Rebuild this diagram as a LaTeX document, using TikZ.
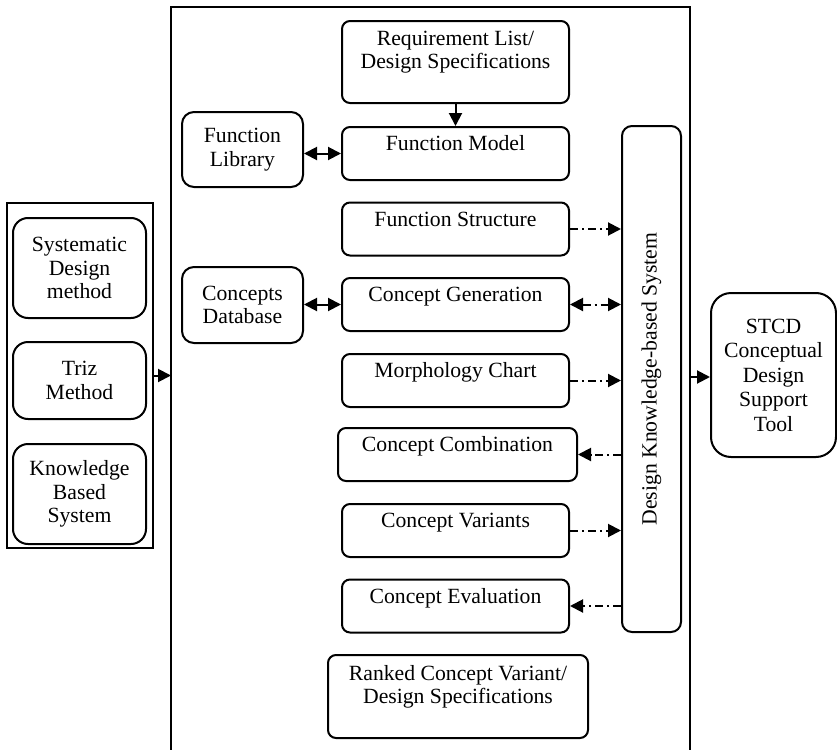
\documentclass[tikz,border=0pt]{standalone}
\usepackage{fontspec}
\setmainfont{Liberation Serif}
\usepackage{graphicx}
\usetikzlibrary{arrows.meta, positioning, calc}

\begin{document}
\begin{tikzpicture}[x=0.5pt, y=-0.5pt,
  every node/.style={font=\fontsize{10.85}{11.8}\selectfont, align=center},
  box/.style={rectangle, draw, line width=1pt, rounded corners=4pt, inner sep=0pt},
  stagebox/.style={box, minimum width=113.5pt, text height=11.75pt, text depth=14.75pt},
  sidebox/.style={box, rounded corners=6pt, minimum width=60.5pt},
  methodbox/.style={box, rounded corners=7.5pt, minimum width=66.5pt},
  flow/.style={-{Triangle[length=6.5pt,width=6.5pt]}, line width=1pt},
  twoway/.style={{Triangle[length=6.5pt,width=6.5pt]}-{Triangle[length=6.5pt,width=6.5pt]}, line width=1pt},
  kbdash/.style={dash pattern=on 4pt off 2pt on 1pt off 2pt},
  kbflow/.style={flow, kbdash},
  kbtwoway/.style={twoway, kbdash}]

\useasboundingbox (0,0) rectangle (837,750);

% Main frame (open at the bottom)
\draw[line width=1pt] (171,760) -- (171,7) -- (690,7) -- (690,760);
\coordinate (mainleft) at (171,378);
\coordinate (mainright) at (690,377);

% Design stages
\node[stagebox, text height=23.8pt, text depth=17.2pt] (reqlist) at (455.5,62)
      {Requirement List/\\Design Specifications};
\node[stagebox] (funcmodel) at (455.5,153.5) {Function Model};
\node[stagebox] (funcstruct) at (455.5,229) {Function Structure};
\node[stagebox] (conceptgen) at (455.5,304.5) {Concept Generation};
\node[stagebox] (morphchart) at (455.5,380.5) {Morphology Chart};
\node[stagebox, minimum width=119.5pt] (conceptcomb) at (457.5,454.5) {Concept Combination};
\node[stagebox] (variants) at (455.5,530.5) {Concept Variants};
\node[stagebox] (evaluation) at (455.5,606) {Concept Evaluation};
\node[stagebox, minimum width=130pt, text height=24.3pt, text depth=17.2pt] (ranked) at (458,696.5)
      {Ranked Concept Variant/\\Design Specifications};

% Libraries
\node[sidebox, minimum height=37.5pt] (funclib) at (242.5,149.5) {Function\\Library};
\node[sidebox, minimum height=38pt] (conceptdb) at (242.5,305) {Concepts\\Database};

% Knowledge-based system
\node[box, rounded corners=5pt, minimum width=29.5pt, minimum height=253pt] (kbs) at (651.5,379)
      {\rotatebox{90}{Design Knowledge-based System}};

% Output tool
\node[box, rounded corners=10pt, minimum width=62.5pt, minimum height=82pt,
      font=\fontsize{10.85}{12.25}\selectfont] (stcd) at (773.5,375)
      {STCD\\Conceptual\\Design\\Support\\Tool};

% Methods
\node[draw, line width=1pt, minimum width=73pt, minimum height=172.5pt] (methods) at (80,375.5) {};
\node[methodbox, minimum height=50pt] (systematic) at (79.5,268) {Systematic\\Design\\method};
\node[methodbox, minimum height=38.5pt] (triz) at (79.5,380.5) {Triz\\Method};
\node[methodbox, minimum height=50pt] (kbsystem) at (79.5,494) {Knowledge\\Based\\System};

% Arrows
\draw[flow] (reqlist) -- (funcmodel);
\draw[twoway] (funclib.east |- funcmodel) -- (funcmodel.west);
\draw[twoway] (conceptdb.east |- conceptgen) -- (conceptgen.west);
\draw[kbflow] (funcstruct.east) -- (funcstruct.east -| kbs.west);
\draw[kbtwoway] (conceptgen.east) -- (conceptgen.east -| kbs.west);
\draw[kbflow] (morphchart.east) -- (morphchart.east -| kbs.west);
\draw[kbflow] (conceptcomb.east -| kbs.west) -- (conceptcomb.east);
\draw[kbflow] (variants.east) -- (variants.east -| kbs.west);
\draw[kbflow] (evaluation.east -| kbs.west) -- (evaluation.east);
\draw[flow] (methods.east) -- (methods.east -| mainleft);
\draw[flow] (mainright) -- (mainright -| stcd.west);

\end{tikzpicture}
\end{document}
